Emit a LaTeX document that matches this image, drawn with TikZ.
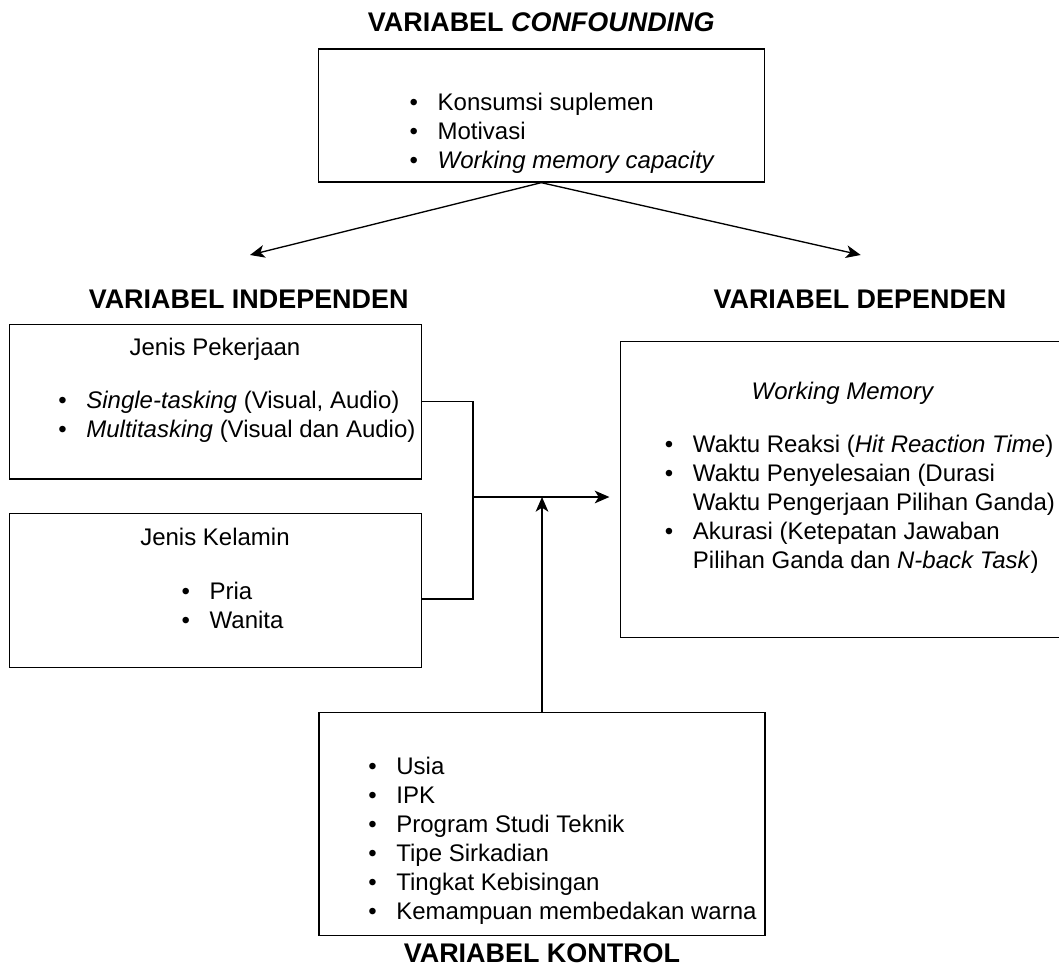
\documentclass[tikz,border=0pt]{standalone}
\usepackage{fontspec}
\setmainfont{Liberation Sans}
\usetikzlibrary{arrows.meta,positioning}

\newcommand{\bul}{\makebox[21pt][l]{\textbullet}}
\newcommand{\ind}{\hspace*{21pt}}

\begin{document}
\begin{tikzpicture}[x=0.75pt,y=-0.75pt,line width=1pt,
  >={Stealth[length=11pt,width=9.5pt,inset=3pt]},
  box/.style={draw,inner sep=0pt},
  title/.style={font=\fontsize{20.2}{24}\selectfont\bfseries,inner sep=0pt},
  list/.style={font=\fontsize{18}{21.75}\selectfont,align=left,inner sep=0pt,anchor=west},
  head/.style={font=\fontsize{18}{21.75}\selectfont,inner sep=0pt}]

 \useasboundingbox (0,0) rectangle (1059,970);
 \clip (0,0) rectangle (1059,970);

 % boxes
 \node[box,minimum width=334.5pt,minimum height=99.75pt] (conf) at (541.3,115.5) {};
 \node[box,minimum width=309.3pt,minimum height=116pt] (indep1) at (215.5,401.7) {};
 \node[box,minimum width=309.3pt,minimum height=115.8pt] (indep2) at (215.5,590.5) {};
 \node[box,minimum width=337pt,minimum height=221.7pt] (dep) at (845.4,489.5) {};
 \node[box,minimum width=334.5pt,minimum height=167.25pt] (kontrol) at (542,824.2) {};

 % titles
 \node[title] (conftitle) [above=12pt of conf] {VARIABEL \textit{CONFOUNDING}};
 \node[title] (indeptitle) at (248.7,299) {VARIABEL INDEPENDEN};
 \node[title] (deptitle) at (860,299) {VARIABEL DEPENDEN};
 \node[title] (kontroltitle) [below=5pt of kontrol] {VARIABEL KONTROL};

 % box contents
 \node[list] (conflist) at (409,133) {\bul Konsumsi suplemen\\ \bul Motivasi\\ \bul \textit{Working memory capacity}};
 \node[head] (pek) at (215,349) {Jenis Pekerjaan};
 \node[list] (peklist) at (57.7,417) {\bul \textit{Single-tasking} (Visual, Audio)\\ \bul \textit{Multitasking} (Visual dan Audio)};
 \node[head] (kel) at (215,537.3) {Jenis Kelamin};
 \node[list] (kellist) at (181,605.5) {\bul Pria\\ \bul Wanita};
 \node[head] (wm) at (843,393) {\textit{Working Memory}};
 \node[list] (deplist) at (664.3,504) {\bul Waktu Reaksi (\textit{Hit Reaction Time})\\ \bul Waktu Penyelesaian (Durasi\\ \ind Waktu Pengerjaan Pilihan Ganda)\\ \bul Akurasi (Ketepatan Jawaban\\ \ind Pilihan Ganda dan \textit{N-back Task})};
 \node[list] (kontrollist) at (367.7,840.5) {\bul Usia\\ \bul IPK\\ \bul Program Studi Teknik\\ \bul Tipe Sirkadian\\ \bul Tingkat Kebisingan\\ \bul Kemampuan membedakan warna};

 % connectors
 \coordinate (tipL) at (250,255);
 \coordinate (tipR) at (860.7,255);
 \coordinate (join) at (473,497);
 \coordinate (brk) at (473,599);

 \draw[->] (conf.south) -- (tipL);
 \draw[->] (conf.south) -- (tipR);
 \draw (indep1.east) -| (brk) -- (brk -| indep2.east);
 \draw[->,shorten >=8pt] (join) -- (join -| dep.west);
 \draw[->] (kontrol.north) -- (kontrol.north |- join);

\end{tikzpicture}
\end{document}
